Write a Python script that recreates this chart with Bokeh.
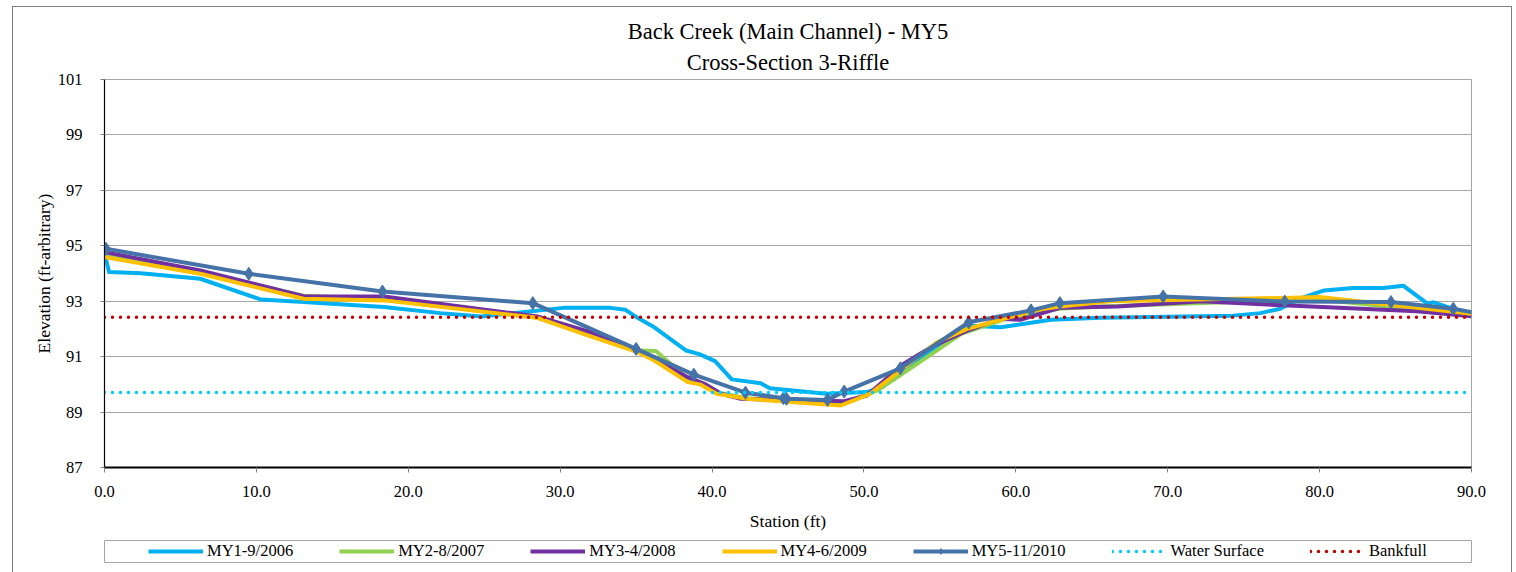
from bokeh.plotting import figure
from bokeh.layouts import column
from bokeh.models import (Range1d, FixedTicker, PrintfTickFormatter, Legend,
                          LegendItem, Title)
from bokeh.embed import file_html
from bokeh.resources import INLINE

TITLE_1 = "Back Creek (Main Channel) - MY5"
TITLE_2 = "Cross-Section 3-Riffle"
X_LABEL = "Station (ft)"
Y_LABEL = "Elevation (ft-arbitrary)"

x_ticks = [0, 10, 20, 30, 40, 50, 60, 70, 80, 90]
y_ticks = [87, 89, 91, 93, 95, 97, 99, 101]

series_names = ["MY1-9/2006", "MY2-8/2007", "MY3-4/2008", "MY4-6/2009",
                "MY5-11/2010", "Water Surface", "Bankfull"]
series_colors = ["#00B0F0", "#92D050", "#7030A0", "#FFC000", "#4572A7",
                 "#00CCFF", "#C00000"]

my1_x = [0.0, 0.3, 2.4, 6.3, 10.3, 13.1, 18.4, 22.1, 24.8, 30.2, 33.3, 34.3,
         35.1, 36.2, 38.3, 39.2, 40.2, 41.3, 43.2, 43.8, 47.5, 50.2, 51.2,
         56.8, 59.0, 62.3, 65.6, 74.3, 76.1, 77.4, 78.7, 80.3, 82.2, 84.2,
         85.5, 87.1, 87.5, 88.8, 90.0]
my1_y = [94.75, 94.05, 94.01, 93.81, 93.06, 92.97, 92.79, 92.57, 92.45, 92.76,
         92.76, 92.69, 92.40, 92.06, 91.22, 91.08, 90.84, 90.18, 90.04, 89.86,
         89.66, 89.72, 89.90, 92.12, 92.06, 92.33, 92.40, 92.48, 92.57, 92.73,
         93.09, 93.39, 93.48, 93.48, 93.56, 92.91, 92.96, 92.72, 92.56]

my2_x = [0.0, 6.3, 13.1, 18.4, 28.5, 32.0, 35.1, 36.3, 38.4, 39.3, 40.4, 42.3,
         44.7, 48.5, 50.9, 53.5, 56.4, 59.0, 61.2, 62.9, 65.6, 74.3, 80.0, 90.0]
my2_y = [94.65, 94.05, 93.20, 93.08, 92.40, 91.78, 91.22, 91.20, 90.20, 90.05,
         89.70, 89.50, 89.42, 89.30, 89.78, 90.74, 91.82, 92.30, 92.60, 92.73,
         92.81, 92.97, 93.05, 92.52]

my3_x = [0.0, 6.3, 13.1, 18.4, 28.5, 32.0, 35.1, 38.4, 39.5, 40.6, 41.9, 44.5,
         48.7, 50.2, 52.6, 54.6, 56.8, 59.0, 60.3, 61.2, 62.9, 66.7, 72.2,
         77.6, 86.4, 90.0]
my3_y = [94.77, 94.11, 93.18, 93.17, 92.45, 91.88, 91.22, 90.26, 90.02, 89.66,
         89.48, 89.44, 89.39, 89.60, 90.74, 91.40, 91.94, 92.37, 92.33, 92.48,
         92.76, 92.81, 93.00, 92.85, 92.64, 92.46]

my4_x = [0.0, 6.3, 13.1, 18.4, 28.5, 32.0, 35.1, 36.2, 38.4, 39.2, 40.3, 42.3,
         44.7, 48.5, 50.4, 52.4, 54.8, 56.8, 59.0, 61.2, 62.9, 66.2, 77.6,
         80.0, 90.0]
my4_y = [94.59, 93.99, 93.09, 93.03, 92.40, 91.73, 91.16, 90.86, 90.08, 90.00,
         89.66, 89.48, 89.38, 89.24, 89.66, 90.50, 91.52, 92.00, 92.33, 92.67,
         92.81, 93.00, 93.12, 93.15, 92.55]

my5_x = [0.1, 9.5, 18.3, 28.2, 35.0, 38.8, 42.2, 44.7, 44.9, 47.6, 48.7, 52.4,
         56.9, 61.0, 62.9, 69.7, 77.7, 84.7, 88.8, 91.0]
my5_y = [94.89, 93.99, 93.35, 92.93, 91.28, 90.35, 89.70, 89.50, 89.48, 89.44,
         89.74, 90.58, 92.24, 92.67, 92.93, 93.17, 92.99, 92.97, 92.73, 92.50]

ws_x = [0.0, 90.0]
ws_y = [89.71, 89.71]
bf_x = [0.0, 90.0]
bf_y = [92.42, 92.42]

all_x = [my1_x, my2_x, my3_x, my4_x, my5_x, ws_x, bf_x]
all_y = [my1_y, my2_y, my3_y, my4_y, my5_y, ws_y, bf_y]

FONT = "Liberation Serif"

p = figure(width=1516, height=535, x_range=Range1d(0, 90), y_range=Range1d(87, 101),
           output_backend="svg", toolbar_location=None, title=None,
           min_border_left=104, min_border_right=45, min_border_top=79,
           min_border_bottom=68, background_fill_color="white",
           border_fill_color=None)
p.outline_line_color = "#a6a6a6"


def draw_series(fig, i):
    if i < 5:
        return fig.line(all_x[i], all_y[i], line_color=series_colors[i], line_width=4,
                        line_join="round")
    return fig.line(all_x[i], all_y[i], line_color=series_colors[i], line_width=3.5,
                    line_dash="0 8", line_cap="round")


def draw_markers(fig):
    return fig.scatter(my5_x, my5_y, marker="diamond", size=13,
                       fill_color=series_colors[4], line_color=series_colors[4])


main_r = [draw_series(p, i) for i in range(5)]
draw_markers(p)
main_r += [draw_series(p, i) for i in (5, 6)]

# axes
p.xaxis.ticker = FixedTicker(ticks=x_ticks)
p.xaxis.formatter = PrintfTickFormatter(format="%.1f")
p.yaxis.ticker = FixedTicker(ticks=y_ticks)
p.yaxis.formatter = PrintfTickFormatter(format="%d")
p.ygrid.ticker = FixedTicker(ticks=y_ticks)
p.xgrid.grid_line_color = None
p.ygrid.grid_line_color = "#a6a6a6"

p.xaxis.axis_label = X_LABEL
p.yaxis.axis_label = Y_LABEL
for ax in (p.xaxis, p.yaxis):
    ax.axis_label_text_font = FONT
    ax.axis_label_text_font_size = "17.5px"
    ax.axis_label_text_font_style = "normal"
    ax.axis_label_text_color = "black"
    ax.major_label_text_font = FONT
    ax.major_label_text_font_size = "16.5px"
    ax.major_label_text_color = "black"
    ax.minor_tick_line_color = None
    ax.major_tick_in = 0
    ax.major_tick_line_color = "#808080"
    ax.axis_line_color = "black"

p.xaxis.axis_line_width = 2
p.xaxis.major_tick_out = 5
p.xaxis.major_label_standoff = 13
p.xaxis.axis_label_standoff = 11
p.yaxis.axis_line_width = 1.2
p.yaxis.major_tick_out = 4
p.yaxis.major_label_standoff = 18
p.yaxis.axis_label_standoff = 1

# titles
p.add_layout(Title(text=TITLE_2, align="center", text_font=FONT, text_font_size="22.5px",
                   text_font_style="normal", text_color="black", standoff=9), "above")
p.add_layout(Title(text=TITLE_1, align="center", text_font=FONT, text_font_size="22.5px",
                   text_font_style="normal", text_color="black", standoff=0), "above")

# legend strip below the chart (its frame outline is the legend box);
# the series are drawn again here but fall outside this strip's ranges
pl = figure(width=1516, height=37, x_range=Range1d(0, 1), y_range=Range1d(0, 1),
            output_backend="svg", toolbar_location=None, title=None,
            x_axis_type=None, y_axis_type=None,
            min_border_left=102, min_border_right=44, min_border_top=5,
            min_border_bottom=10, background_fill_color="white",
            border_fill_color=None)
pl.outline_line_color = "#a6a6a6"
pl.grid.visible = False

lg = [draw_series(pl, i) for i in range(7)]
lg_m = draw_markers(pl)

items = []
for i, name in enumerate(series_names):
    rs = [lg[i], lg_m] if i == 4 else [lg[i]]
    items.append(LegendItem(label=name, renderers=rs))

legend = Legend(items=items, orientation="horizontal", location=(44, 1), spacing=46,
                glyph_width=55, glyph_height=14, label_height=14, label_width=0,
                label_standoff=4, padding=0, margin=0, border_line_alpha=0,
                background_fill_alpha=0, label_text_font=FONT,
                label_text_font_size="16.5px", label_text_color="black")
pl.add_layout(legend, "center")

frame_css = {
    "background-color": "white",
    "background-image": ("linear-gradient(#808080, #808080), "
                         "linear-gradient(#808080, #808080), "
                         "linear-gradient(#808080, #808080)"),
    "background-size": "1px 100%, 1px 100%, 1500px 1px",
    "background-position": "12px 6px, 1511px 6px, 12px 6px",
    "background-repeat": "no-repeat",
}
layout = column(p, pl, spacing=0, styles=frame_css)
open("out.html", "w").write(file_html(layout, INLINE))
